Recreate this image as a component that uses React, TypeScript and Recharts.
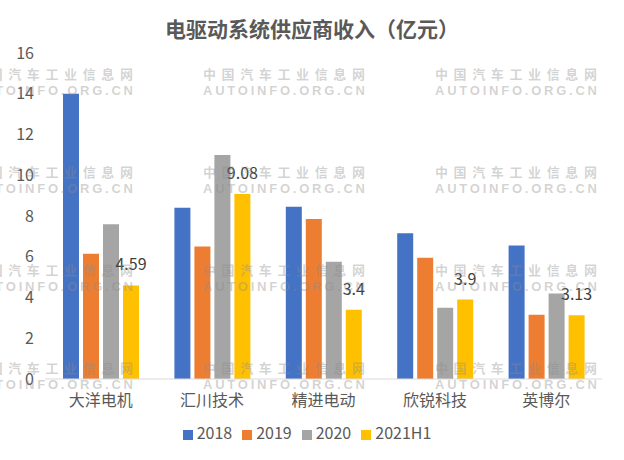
import React from 'react';
import { BarChart, Bar, XAxis, YAxis, Legend, LabelList } from 'recharts';

const categories = ['大洋电机', '汇川技术', '精进电动', '欣锐科技', '英博尔'];
const s2018 = [14.0, 8.4, 8.45, 7.15, 6.55];
const s2019 = [6.15, 6.5, 7.85, 5.95, 3.15];
const s2020 = [7.6, 11.0, 5.75, 3.5, 4.2];
const s2021H1 = [4.59, 9.08, 3.4, 3.9, 3.13];
const yTicks = [0, 2, 4, 6, 8, 10, 12, 14, 16];
const seriesNames = ['2018', '2019', '2020', '2021H1'];
const title = '电驱动系统供应商收入（亿元）';
const watermarkCn = '中国汽车工业信息网';
const watermarkEn = 'AUTOINFO.ORG.CN';

const data = categories.map((c, i) => ({
  name: c,
  '2018': s2018[i],
  '2019': s2019[i],
  '2020': s2020[i],
  '2021H1': s2021H1[i],
}));

const colors = ['#4472C4', '#ED7D31', '#A5A5A5', '#FFC000'];
const FONT = '"Noto Sans CJK SC", "Noto Sans", sans-serif';

const wmRows = [74, 172, 270, 368];
const wmCols = [-29, 203, 435];

export default function App() {
  return (
    <div style={{ position: 'absolute', left: 0, top: 0, width: 624, height: 460, background: '#fff', fontFamily: FONT, overflow: 'hidden' }}>
      <div style={{ position: 'absolute', left: 0, top: 15, width: 624, textAlign: 'center', fontSize: 21, lineHeight: '27px', fontWeight: 700, color: '#595959' }}>
        {title}
      </div>
      <BarChart width={624} height={460} data={data} margin={{ top: 53, right: 22, left: 0, bottom: 51 }} barSize={16} barGap={4}>
        <XAxis dataKey="name" height={30} tickLine={false} axisLine={{ stroke: '#D9D9D9' }} tickMargin={10} tick={{ fontSize: 16, fill: '#595959', fontFamily: FONT }} interval={0} />
        <YAxis width={45} domain={[0, 16]} ticks={yTicks} tickLine={false} axisLine={false} tickMargin={5} tick={{ fontSize: 16, fill: '#595959', fontFamily: FONT }} />
        <Legend
          verticalAlign="middle"
          align="center"
          layout="horizontal"
          iconType="square"
          iconSize={10}
          wrapperStyle={{ top: 420, left: 0, width: 624, fontFamily: FONT, fontSize: 16, lineHeight: '24px' }}
          formatter={(v) => <span style={{ color: '#595959' }}>{v}</span>}
        />
        {seriesNames.map((s, i) => (
          <Bar key={s} dataKey={s} fill={colors[i]} isAnimationActive={false}>
            {s === '2021H1' ? (
              <LabelList dataKey={s} position="top" offset={15} style={{ fontSize: 16, fill: '#404040', fontFamily: FONT }} />
            ) : null}
          </Bar>
        ))}
      </BarChart>
      <svg width={624} height={460} style={{ position: 'absolute', left: 0, top: 0, pointerEvents: 'none' }}>
        {wmRows.map((y) =>
          wmCols.map((x) => (
            <g key={`${x}-${y}`} fill="#8c8c8c" fillOpacity={0.38} fontWeight={700}>
              <text x={x} y={y + 5} fontSize={13} fontFamily={FONT} textLength={162} lengthAdjust="spacing">{watermarkCn}</text>
              <text x={x} y={y + 21} fontSize={13} fontFamily='"Liberation Sans", Arial, sans-serif' textLength={162} lengthAdjust="spacing">{watermarkEn}</text>
            </g>
          ))
        )}
      </svg>
    </div>
  );
}
